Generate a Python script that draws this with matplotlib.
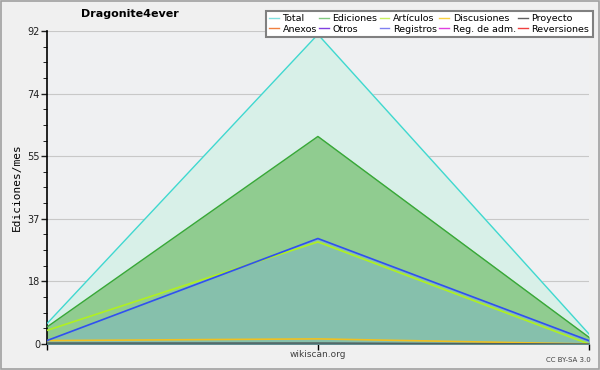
import numpy as np
import matplotlib.pyplot as plt
from matplotlib.ticker import FixedLocator, AutoMinorLocator

MESES = [0, 1, 2]
TOTAL = [6, 91, 3]
EDICIONES = [5, 61, 2]
ARTICULOS = [4, 30, 0]
REGISTROS = [1, 31, 1]
DISCUSIONES = [1, 1.5, 0]
PROYECTO = [0.3, 0.3, 0]

LEYENDA = ["Total", "Ediciones", "Artículos", "Discusiones", "Proyecto",
           "Anexos", "Otros", "Registros", "Reg. de adm.", "Reversiones"]
COLORES = ["#80e0e0", "#80c880", "#c8f060", "#f8d040", "#606060",
           "#f08040", "#8040e0", "#8080f0", "#e040e0", "#f04040"]

fig = plt.figure(figsize=(6, 3.7), dpi=100, facecolor="#f0f0f0")
fig.patches.append(plt.Rectangle((0.002, 0.003), 0.996, 0.994, transform=fig.transFigure,
                                 fill=False, edgecolor="#a0a0a0", lw=1.2))
ax = fig.add_axes([0.0783, 0.0703, 0.903, 0.846])
ax.set_facecolor("#eff0f2")

ax.fill_between(MESES, TOTAL, color="#d8f0e8", zorder=1)
ax.plot(MESES, TOTAL, color="#40d8d0", lw=1, zorder=5)
ax.fill_between(MESES, EDICIONES, color="#90cc90", zorder=2)
ax.plot(MESES, EDICIONES, color="#38a838", lw=1, zorder=5)
ax.fill_between(MESES, REGISTROS, color="#80b8c0", alpha=0.6, zorder=3)
ax.plot(MESES, ARTICULOS, color="#b0f020", lw=1.2, zorder=5)
ax.plot(MESES, REGISTROS, color="#3050f0", lw=1.2, zorder=6)
ax.plot(MESES, DISCUSIONES, color="#f0c020", lw=1.2, zorder=5)
ax.plot(MESES, PROYECTO, color="#506060", lw=1, zorder=5)

ax.set_xlim(0, 2)
ax.set_ylim(0, 92)
mayores = np.linspace(0, 92, 6)
ax.yaxis.set_major_locator(FixedLocator(mayores))
ax.set_yticklabels(["%.0f" % v for v in mayores])
ax.yaxis.set_minor_locator(AutoMinorLocator(4))
ax.set_xticks(MESES)
ax.set_xticklabels([])
ax.tick_params(axis="y", labelsize=7, length=4, width=1, colors="#202020", pad=1)
ax.tick_params(axis="y", which="minor", length=3)
ax.tick_params(axis="x", length=4, width=1)
ax.grid(axis="y", color="#c8c8c8", lw=0.8)
ax.set_axisbelow(True)
for s in ["top", "right"]:
    ax.spines[s].set_visible(False)
ax.spines["left"].set_linewidth(1.2)
ax.spines["bottom"].set_linewidth(1.2)

ax.set_ylabel("Ediciones/mes", family="DejaVu Sans Mono", fontsize=8, labelpad=4)
fig.text(0.53, 0.035, "wikiscan.org", fontsize=6.5, color="#404040", ha="center")
fig.text(0.985, 0.022, "CC BY-SA 3.0", fontsize=5, color="#404040", ha="right")
fig.text(0.217, 0.953, "Dragonite4ever", fontsize=8, fontweight="bold", ha="center")

handles = [plt.Line2D([], [], color=c, lw=1) for c in COLORES]
orden = [0, 5, 1, 6, 2, 7, 3, 8, 4, 9]
leg = ax.legend([handles[i] for i in orden], [LEYENDA[i] for i in orden], ncol=5,
                loc="upper right", bbox_to_anchor=(1.007, 1.064), borderaxespad=0,
                fontsize=6.8, frameon=True, fancybox=False, edgecolor="#808080",
                framealpha=1, handlelength=1.0, handletextpad=0.4, columnspacing=0.25,
                labelspacing=0.15, borderpad=0.35)
leg.get_frame().set_linewidth(1.5)
leg.set_zorder(10)

fig.savefig("out.png", dpi=100, facecolor=fig.get_facecolor())
